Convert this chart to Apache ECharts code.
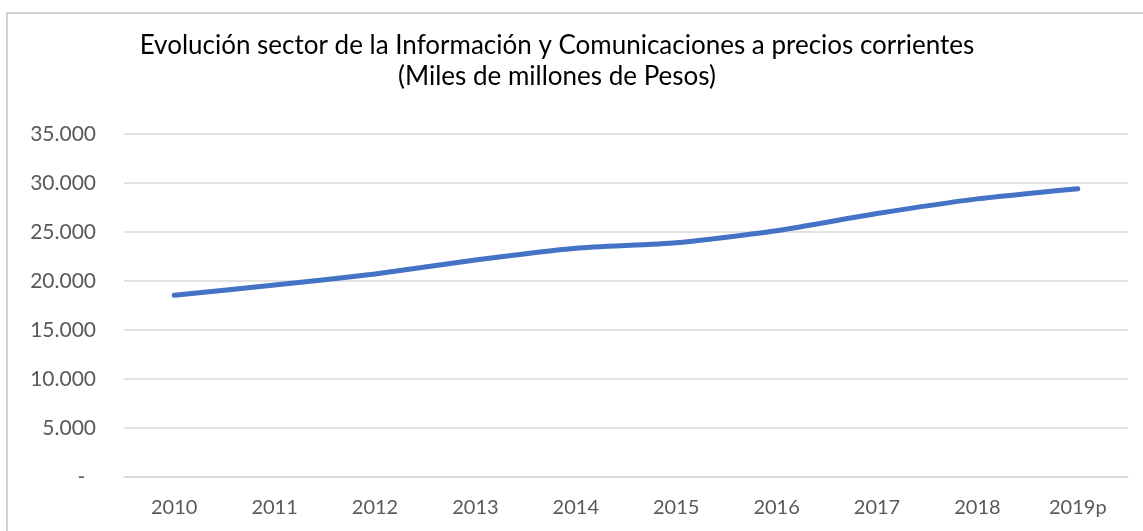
<!DOCTYPE html>
<html>
<head>
<meta charset="utf-8">
<script src="https://cdn.jsdelivr.net/npm/echarts@6/dist/echarts.min.js"></script>
<style>
  html, body { margin: 0; padding: 0; background: #fff; }
  #chart { width: 1143px; height: 531px; }
</style>
</head>
<body>
<div id="chart"></div>
<script>
// datos
var years = ['2010', '2011', '2012', '2013', '2014', '2015', '2016', '2017', '2018', '2019p'];
var valores = [18540, 19590, 20710, 22140, 23340, 23900, 25120, 26880, 28380, 29420];
var tituloLinea1 = 'Evolución sector de la Información y Comunicaciones a precios corrientes';
var tituloLinea2 = '(Miles de millones de Pesos)';

var myChart = echarts.init(document.getElementById('chart'));

function formatoMiles(v) {
    if (v === 0) {
        return '-  ';
    }
    return String(v).replace(/\B(?=(\d{3})+(?!\d))/g, '.');
}

var option = {
    animation: false,
    backgroundColor: '#ffffff',
    title: {
        text: tituloLinea1 + '\n' + tituloLinea2,
        left: 552,
        top: 25,
        textAlign: 'center',
        textStyle: {
            fontFamily: 'Lato',
            fontWeight: 'normal',
            fontSize: 26,
            lineHeight: 31,
            color: '#000000'
        }
    },
    graphic: [{
        type: 'rect',
        shape: {x: 7, y: 13, width: 1200, height: 600},
        style: {fill: 'none', stroke: '#a6a6a6', lineWidth: 1}
    }],
    grid: {
        left: 124,
        right: 15,
        top: 134,
        bottom: 54
    },
    xAxis: {
        type: 'category',
        data: years,
        boundaryGap: true,
        axisLine: {show: true, lineStyle: {color: '#d9d9d9', width: 1.5}},
        axisTick: {show: false},
        axisLabel: {
            color: '#595959',
            fontFamily: 'Lato',
            fontSize: 20,
            margin: 21
        }
    },
    yAxis: {
        type: 'value',
        min: 0,
        max: 35000,
        interval: 5000,
        axisLine: {show: false},
        axisTick: {show: false},
        splitLine: {lineStyle: {color: '#d9d9d9', width: 1.5}},
        axisLabel: {
            color: '#595959',
            fontFamily: 'Lato',
            fontSize: 21,
            margin: 28,
            formatter: formatoMiles
        }
    },
    series: [{
        type: 'line',
        data: valores,
        smooth: 0.2,
        showSymbol: false,
        symbol: 'none',
        lineStyle: {
            color: '#4472c4',
            width: 5,
            cap: 'round',
            join: 'round'
        }
    }]
};

myChart.setOption(option);
</script>
</body>
</html>
